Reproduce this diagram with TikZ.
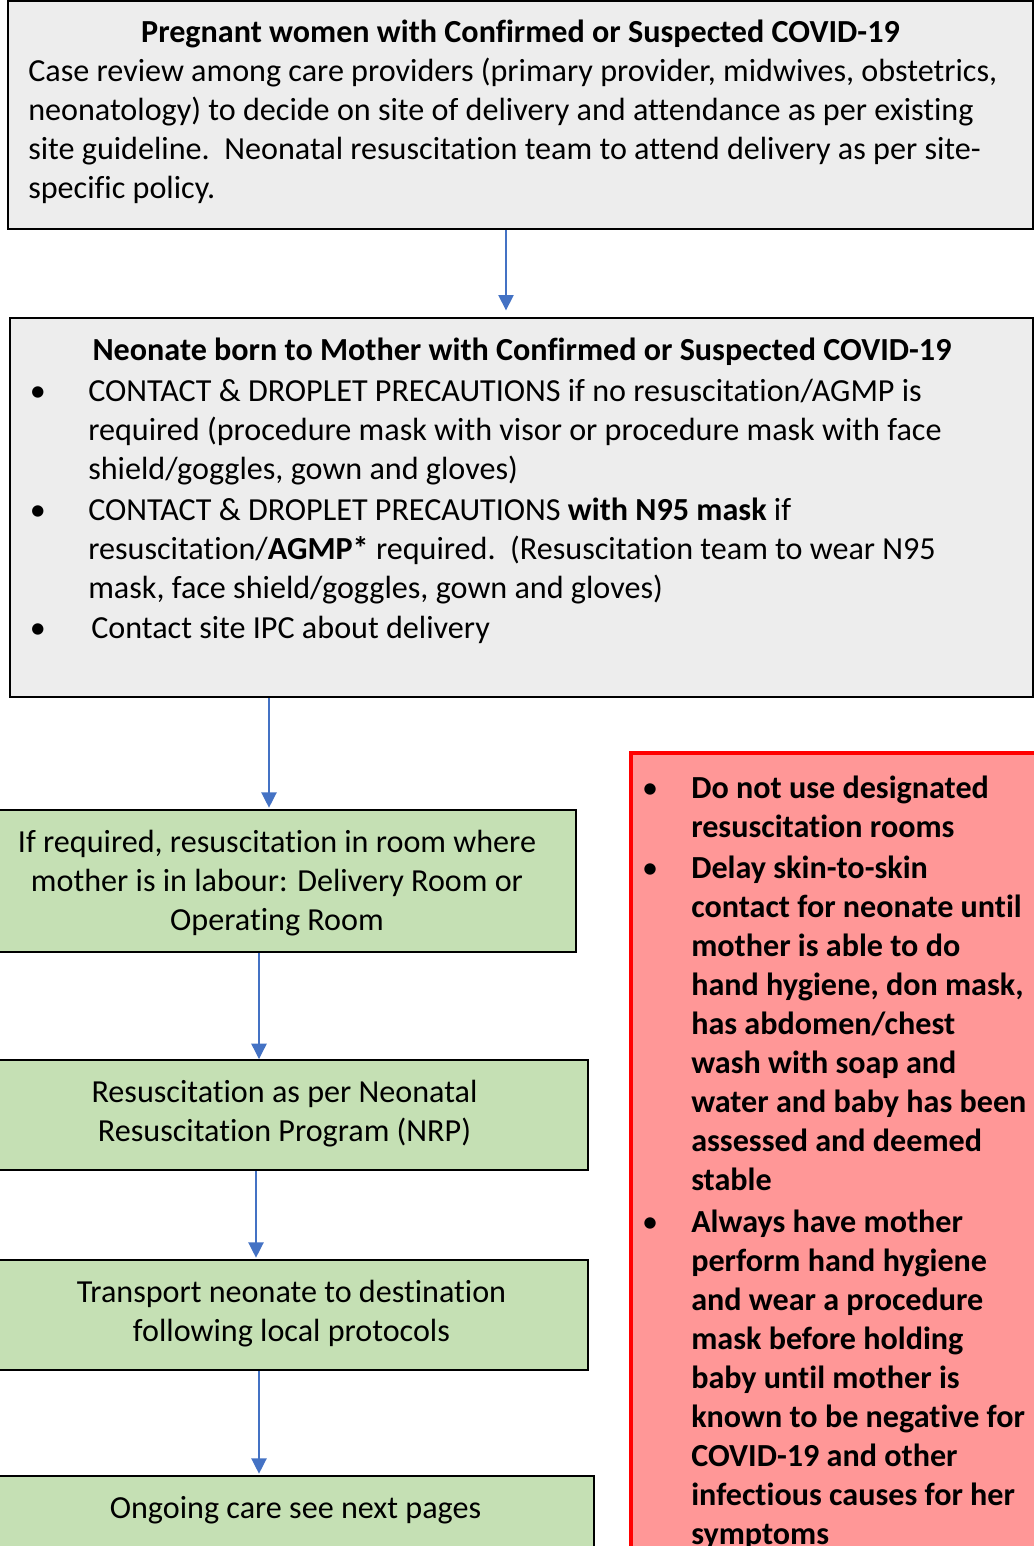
\documentclass[tikz,border=0pt]{standalone}
\usepackage{fontspec}
\setmainfont[Ligatures=NoCommon]{Carlito}
\usetikzlibrary{arrows.meta,fit}
\definecolor{graybox}{HTML}{EDEDED}
\definecolor{greenbox}{HTML}{C5E0B4}
\definecolor{redfill}{HTML}{FF9797}
\definecolor{arrowblue}{HTML}{4472C4}
\newcommand\txtblockL[2]{\begin{minipage}[t]{#1}\raggedright #2\end{minipage}}
\newcommand\txtblockC[2]{\begin{minipage}[t]{#1}\centering #2\end{minipage}}
\begin{document}
\begin{tikzpicture}[x=0.75pt,y=-0.75pt,
  box/.style={draw=black,line width=1.5pt,inner sep=0pt,fit={#1}},
  txt/.style={inner sep=0pt,font=\fontsize{24.1pt}{29.25pt}\selectfont},
  bul/.style={inner sep=0pt,font=\fontsize{24.1pt}{29.25pt}\selectfont,anchor=base},
  arr/.style={draw=arrowblue,line width=1pt,-{Triangle[width=11.5pt,length=11.5pt]}}
]
\useasboundingbox (0,0) rectangle (1034,1546);
\fill[white] (0,0) rectangle (1034,1546);

% boxes
\node[box={(8,1) (1033,229)},fill=graybox] (b1) {};
\node[box={(10,318) (1033,697)},fill=graybox] (b2) {};
\node[box={(-20,810) (576,952)},fill=greenbox] (g1) {};
\node[box={(-20,1060) (588,1170)},fill=greenbox] (g2) {};
\node[box={(-20,1260) (588,1370)},fill=greenbox] (g3) {};
\node[box={(-20,1476) (594,1570)},fill=greenbox] (g4) {};
\node[box={(631,753) (1050,1570)},fill=redfill,draw=red,line width=3pt] (r1) {};

% arrows
\coordinate (ax1) at (506,0);
\coordinate (ax2) at (269,0);
\coordinate (ax3) at (259,0);
\coordinate (ax4) at (256,0);
\coordinate (ax5) at (259,0);
\draw[arr,shorten >=5] (b1.south -| ax1) -- (b2.north -| ax1);
\draw[arr,shorten >=1] (b2.south -| ax2) -- (g1.north -| ax2);
\draw[arr] (g1.south -| ax3) -- (g2.north -| ax3);
\draw[arr,shorten >=1] (g2.south -| ax4) -- (g3.north -| ax4);
\draw[arr,shorten >=1] (g3.south -| ax5) -- (g4.north -| ax5);

% top box text
\node[txt,anchor=base] (t1) at (520.5,42) {\textbf{Pregnant women with Confirmed or Suspected COVID-19}};
\node[txt,anchor=base west] (t2) at (28,81) {\txtblockL{760pt}{Case review among care providers (primary provider, midwives, obstetrics,\\
neonatology) to decide on site of delivery and attendance as per existing\\
site guideline.\ \ Neonatal resuscitation team to attend delivery as per site-\\
specific policy.}};

% second box text
\node[txt,anchor=base] (t3) at (522,360) {\textbf{Neonate born to Mother with Confirmed or Suspected COVID-19}};
\node[bul] (bu1) at (38,401) {\textbullet};
\node[txt,anchor=base west] (t4) at (88,401) {\txtblockL{700pt}{CONTACT \& DROPLET PRECAUTIONS if no resuscitation/AGMP is\\
required (procedure mask with visor or procedure mask with face\\
shield/goggles, gown and gloves)}};
\node[bul] (bu2) at (38,520) {\textbullet};
\node[txt,anchor=base west] (t5) at (88,520) {\txtblockL{700pt}{CONTACT \& DROPLET PRECAUTIONS \textbf{with N95 mask} if\\
resuscitation/\textbf{AGMP*} required.\ \ (Resuscitation team to wear N95\\
mask, face shield/goggles, gown and gloves)}};
\node[bul] (bu3) at (38,638) {\textbullet};
\node[txt,anchor=base west] (t6) at (91,638) {Contact site IPC about delivery};

% green boxes text
\node[txt,anchor=base] (t7) at (277,852) {\txtblockC{560pt}{If required, resuscitation in room where\\
mother is in labour: Delivery Room or\\
Operating Room}};
\node[txt,anchor=base] (t8) at (284.5,1102) {\txtblockC{560pt}{Resuscitation as per Neonatal\\
Resuscitation Program (NRP)}};
\node[txt,anchor=base] (t9) at (291.5,1302) {\txtblockC{560pt}{Transport neonate to destination\\
following local protocols}};
\node[txt,anchor=base] (t10) at (295.5,1518) {Ongoing care see next pages};

% red box text
\node[bul] (rb1) at (650,798) {\textbullet};
\node[txt,anchor=base west] (r2) at (691,798) {\txtblockL{300pt}{\bfseries Do not use designated\\
resuscitation rooms}};
\node[bul] (rb2) at (650,878) {\textbullet};
\node[txt,anchor=base west] (r3) at (691,878) {\txtblockL{300pt}{\bfseries Delay skin-to-skin\\
contact for neonate until\\
mother is able to do\\
hand hygiene, don mask,\\
has abdomen/chest\\
wash with soap and\\
water and baby has been\\
assessed and deemed\\
stable}};
\node[bul] (rb3) at (650,1232) {\textbullet};
\node[txt,anchor=base west] (r4) at (691,1232) {\txtblockL{300pt}{\bfseries Always have mother\\
perform hand hygiene\\
and wear a procedure\\
mask before holding\\
baby until mother is\\
known to be negative for\\
COVID-19 and other\\
infectious causes for her\\
symptoms}};
\end{tikzpicture}
\end{document}
